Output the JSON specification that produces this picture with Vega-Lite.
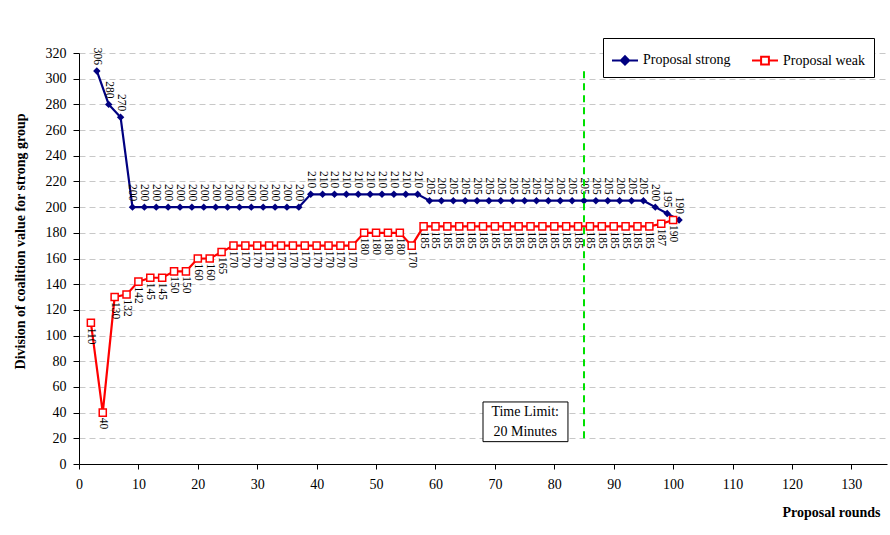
{
  "$schema": "https://vega.github.io/schema/vega-lite/v6.json",
  "width": 808,
  "height": 411,
  "autosize": {"type": "none"},
  "padding": {"left": 79, "top": 53, "right": 3, "bottom": 71},
  "background": "white",
  "config": {
    "font": "Liberation Serif",
    "view": {"stroke": null},
    "axis": {"labelFont": "Liberation Serif", "titleFont": "Liberation Serif", "labelColor": "black", "titleColor": "black", "domainColor": "black", "tickColor": "black", "labelFontSize": 14, "titleFontSize": 14, "titleFontWeight": "bold"},
    "axisY": {"labelOverlap": false},
    "axisLeft": {"labelOverlap": false},
    "axisQuantitative": {"labelOverlap": false}
  },
  "datasets": {
    "rounds": [
      {"series": "Proposal strong", "round": 3, "value": 306},
      {"series": "Proposal strong", "round": 5, "value": 280},
      {"series": "Proposal strong", "round": 7, "value": 270},
      {"series": "Proposal strong", "round": 9, "value": 200},
      {"series": "Proposal strong", "round": 11, "value": 200},
      {"series": "Proposal strong", "round": 13, "value": 200},
      {"series": "Proposal strong", "round": 15, "value": 200},
      {"series": "Proposal strong", "round": 17, "value": 200},
      {"series": "Proposal strong", "round": 19, "value": 200},
      {"series": "Proposal strong", "round": 21, "value": 200},
      {"series": "Proposal strong", "round": 23, "value": 200},
      {"series": "Proposal strong", "round": 25, "value": 200},
      {"series": "Proposal strong", "round": 27, "value": 200},
      {"series": "Proposal strong", "round": 29, "value": 200},
      {"series": "Proposal strong", "round": 31, "value": 200},
      {"series": "Proposal strong", "round": 33, "value": 200},
      {"series": "Proposal strong", "round": 35, "value": 200},
      {"series": "Proposal strong", "round": 37, "value": 200},
      {"series": "Proposal strong", "round": 39, "value": 210},
      {"series": "Proposal strong", "round": 41, "value": 210},
      {"series": "Proposal strong", "round": 43, "value": 210},
      {"series": "Proposal strong", "round": 45, "value": 210},
      {"series": "Proposal strong", "round": 47, "value": 210},
      {"series": "Proposal strong", "round": 49, "value": 210},
      {"series": "Proposal strong", "round": 51, "value": 210},
      {"series": "Proposal strong", "round": 53, "value": 210},
      {"series": "Proposal strong", "round": 55, "value": 210},
      {"series": "Proposal strong", "round": 57, "value": 210},
      {"series": "Proposal strong", "round": 59, "value": 205},
      {"series": "Proposal strong", "round": 61, "value": 205},
      {"series": "Proposal strong", "round": 63, "value": 205},
      {"series": "Proposal strong", "round": 65, "value": 205},
      {"series": "Proposal strong", "round": 67, "value": 205},
      {"series": "Proposal strong", "round": 69, "value": 205},
      {"series": "Proposal strong", "round": 71, "value": 205},
      {"series": "Proposal strong", "round": 73, "value": 205},
      {"series": "Proposal strong", "round": 75, "value": 205},
      {"series": "Proposal strong", "round": 77, "value": 205},
      {"series": "Proposal strong", "round": 79, "value": 205},
      {"series": "Proposal strong", "round": 81, "value": 205},
      {"series": "Proposal strong", "round": 83, "value": 205},
      {"series": "Proposal strong", "round": 85, "value": 205},
      {"series": "Proposal strong", "round": 87, "value": 205},
      {"series": "Proposal strong", "round": 89, "value": 205},
      {"series": "Proposal strong", "round": 91, "value": 205},
      {"series": "Proposal strong", "round": 93, "value": 205},
      {"series": "Proposal strong", "round": 95, "value": 205},
      {"series": "Proposal strong", "round": 97, "value": 200},
      {"series": "Proposal strong", "round": 99, "value": 195},
      {"series": "Proposal strong", "round": 101, "value": 190},
      {"series": "Proposal weak", "round": 2, "value": 110},
      {"series": "Proposal weak", "round": 4, "value": 40},
      {"series": "Proposal weak", "round": 6, "value": 130},
      {"series": "Proposal weak", "round": 8, "value": 132},
      {"series": "Proposal weak", "round": 10, "value": 142},
      {"series": "Proposal weak", "round": 12, "value": 145},
      {"series": "Proposal weak", "round": 14, "value": 145},
      {"series": "Proposal weak", "round": 16, "value": 150},
      {"series": "Proposal weak", "round": 18, "value": 150},
      {"series": "Proposal weak", "round": 20, "value": 160},
      {"series": "Proposal weak", "round": 22, "value": 160},
      {"series": "Proposal weak", "round": 24, "value": 165},
      {"series": "Proposal weak", "round": 26, "value": 170},
      {"series": "Proposal weak", "round": 28, "value": 170},
      {"series": "Proposal weak", "round": 30, "value": 170},
      {"series": "Proposal weak", "round": 32, "value": 170},
      {"series": "Proposal weak", "round": 34, "value": 170},
      {"series": "Proposal weak", "round": 36, "value": 170},
      {"series": "Proposal weak", "round": 38, "value": 170},
      {"series": "Proposal weak", "round": 40, "value": 170},
      {"series": "Proposal weak", "round": 42, "value": 170},
      {"series": "Proposal weak", "round": 44, "value": 170},
      {"series": "Proposal weak", "round": 46, "value": 170},
      {"series": "Proposal weak", "round": 48, "value": 180},
      {"series": "Proposal weak", "round": 50, "value": 180},
      {"series": "Proposal weak", "round": 52, "value": 180},
      {"series": "Proposal weak", "round": 54, "value": 180},
      {"series": "Proposal weak", "round": 56, "value": 170},
      {"series": "Proposal weak", "round": 58, "value": 185},
      {"series": "Proposal weak", "round": 60, "value": 185},
      {"series": "Proposal weak", "round": 62, "value": 185},
      {"series": "Proposal weak", "round": 64, "value": 185},
      {"series": "Proposal weak", "round": 66, "value": 185},
      {"series": "Proposal weak", "round": 68, "value": 185},
      {"series": "Proposal weak", "round": 70, "value": 185},
      {"series": "Proposal weak", "round": 72, "value": 185},
      {"series": "Proposal weak", "round": 74, "value": 185},
      {"series": "Proposal weak", "round": 76, "value": 185},
      {"series": "Proposal weak", "round": 78, "value": 185},
      {"series": "Proposal weak", "round": 80, "value": 185},
      {"series": "Proposal weak", "round": 82, "value": 185},
      {"series": "Proposal weak", "round": 84, "value": 185},
      {"series": "Proposal weak", "round": 86, "value": 185},
      {"series": "Proposal weak", "round": 88, "value": 185},
      {"series": "Proposal weak", "round": 90, "value": 185},
      {"series": "Proposal weak", "round": 92, "value": 185},
      {"series": "Proposal weak", "round": 94, "value": 185},
      {"series": "Proposal weak", "round": 96, "value": 185},
      {"series": "Proposal weak", "round": 98, "value": 187},
      {"series": "Proposal weak", "round": 100, "value": 190}
    ],
    "limit": [
      {"round": 85, "low": 20, "high": 308, "x1": 68, "x2": 82.3, "y1": 17.4, "y2": 48.3, "xc": 75.1, "yc": 40.7, "label": ["Time Limit:", "20 Minutes"]}
    ]
  },
  "layer": [
    {
      "data": {"name": "rounds"},
      "mark": {"type": "line", "strokeWidth": 2.2},
      "encoding": {
        "x": {"field": "round", "type": "quantitative", "scale": {"domain": [0, 136], "nice": false},
          "axis": {"values": [0,5,10,15,20,25,30,35,40,45,50,55,60,65,70,75,80,85,90,95,100,105,110,115,120,125,130,135], "labelExpr": "datum.value % 10 === 0 ? datum.label : ''", "grid": false, "tickSize": 5, "labelPadding": 8, "labelFlush": false, "labelOverlap": false, "title": "Proposal rounds", "titleX": 752, "titleY": 48, "titleAlign": "center", "titleBaseline": "middle"}},
        "y": {"field": "value", "type": "quantitative", "scale": {"domain": [0, 320], "nice": false},
          "axis": {"tickCount": 16, "labelFontSize": 14, "grid": true, "gridColor": "#c8c8c8", "gridDash": [6, 4], "gridOpacity": {"condition": {"test": "datum.value > 0", "value": 1}, "value": 0}, "tickSize": 6, "labelPadding": 7, "labelOverlap": false, "labelFlush": false, "title": "Division of coalition value for strong group", "titleX": -59, "titleY": 188, "titleAlign": "center", "titleBaseline": "middle"}},
        "color": {"field": "series", "type": "nominal", "scale": {"domain": ["Proposal strong", "Proposal weak"], "range": ["#000080", "#ff0000"]},
          "legend": {"title": null, "orient": "none", "legendX": 524, "legendY": -15, "direction": "horizontal", "columns": 2, "padding": 8, "strokeColor": "black", "fillColor": "white", "labelFont": "Liberation Serif", "labelFontSize": 14, "labelColor": "black", "labelOffset": 4, "columnPadding": 17, "symbolSize": 676, "symbolStrokeWidth": 2,
            "encode": {"symbols": {"update": {
              "shape": {"signal": "datum.value === 'Proposal strong' ? 'M-1,0L1,0M0,-0.32L0.32,0L0,0.32L-0.32,0Z' : 'M-1,0L-0.3,0M0.3,0L1,0M-0.3,-0.3L0.3,-0.3L0.3,0.3L-0.3,0.3Z'"},
              "fill": {"signal": "datum.value === 'Proposal strong' ? '#000080' : '#ffffff'"},
              "fillOpacity": {"value": 1},
              "strokeWidth": {"value": 2}
            }}}}}
      }
    },
    {
      "data": {"name": "rounds"},
      "transform": [{"filter": "datum.series === 'Proposal strong'"}],
      "mark": {"type": "point", "shape": "diamond", "filled": true, "color": "#000080", "size": 55, "opacity": 1},
      "encoding": {"x": {"field": "round", "type": "quantitative"}, "y": {"field": "value", "type": "quantitative"}}
    },
    {
      "data": {"name": "rounds"},
      "transform": [{"filter": "datum.series === 'Proposal weak'"}],
      "mark": {"type": "point", "shape": "square", "filled": true, "fill": "white", "stroke": "#ff0000", "strokeWidth": 1.5, "size": 50, "opacity": 1},
      "encoding": {"x": {"field": "round", "type": "quantitative"}, "y": {"field": "value", "type": "quantitative"}}
    },
    {
      "data": {"name": "rounds"},
      "transform": [{"filter": "datum.series === 'Proposal strong'"}],
      "mark": {"type": "text", "angle": 90, "align": "right", "baseline": "middle", "dx": -6, "font": "Liberation Serif", "fontSize": 11.5, "color": "black"},
      "encoding": {"x": {"field": "round", "type": "quantitative"}, "y": {"field": "value", "type": "quantitative"}, "text": {"field": "value", "type": "quantitative"}}
    },
    {
      "data": {"name": "rounds"},
      "transform": [{"filter": "datum.series === 'Proposal weak'"}],
      "mark": {"type": "text", "angle": 90, "align": "left", "baseline": "middle", "dx": 5, "font": "Liberation Serif", "fontSize": 11.5, "color": "black"},
      "encoding": {"x": {"field": "round", "type": "quantitative"}, "y": {"field": "value", "type": "quantitative"}, "text": {"field": "value", "type": "quantitative"}}
    },
    {
      "data": {"name": "limit"},
      "mark": {"type": "rule", "color": "#00e000", "strokeWidth": 2, "strokeDash": [7, 5]},
      "encoding": {"x": {"field": "round", "type": "quantitative"}, "y": {"field": "low", "type": "quantitative"}, "y2": {"field": "high"}}
    },
    {
      "data": {"name": "limit"},
      "mark": {"type": "rect", "fill": "white", "stroke": "black", "strokeWidth": 1},
      "encoding": {"x": {"field": "x1", "type": "quantitative"}, "x2": {"field": "x2"}, "y": {"field": "y1", "type": "quantitative"}, "y2": {"field": "y2"}}
    },
    {
      "data": {"name": "limit"},
      "mark": {"type": "text", "font": "Liberation Serif", "fontSize": 14, "lineHeight": 20, "align": "center", "baseline": "middle", "color": "black"},
      "encoding": {"x": {"field": "xc", "type": "quantitative"}, "y": {"field": "yc", "type": "quantitative"}, "text": {"field": "label"}}
    }
  ]
}
